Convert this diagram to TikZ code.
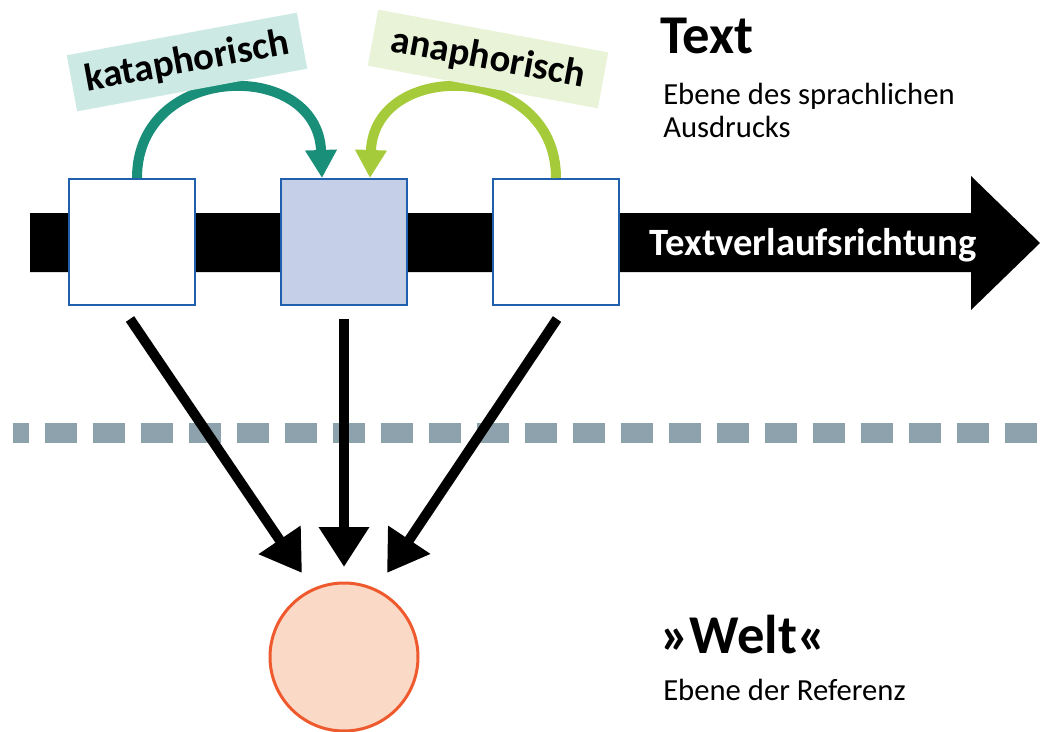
\documentclass[tikz,border=0pt]{standalone}
\usepackage{fontspec}
\setmainfont{Carlito}
\usetikzlibrary{arrows.meta,calc}
\definecolor{boxblue}{HTML}{1F5FAD}
\definecolor{midfill}{HTML}{C5D0E8}
\definecolor{tealA}{HTML}{198F79}
\definecolor{tealL}{HTML}{CCE9E3}
\definecolor{greenA}{HTML}{A6CB3A}
\definecolor{greenL}{HTML}{E9F3D7}
\definecolor{circS}{HTML}{EE5A2E}
\definecolor{circF}{HTML}{FADAC6}
\definecolor{dashc}{HTML}{8DA2AC}
\begin{document}
\begin{tikzpicture}[x=0.75pt,y=-0.75pt,
  wordbox/.style={draw=boxblue, line width=1.5pt, minimum width=94.5pt, minimum height=94.5pt, inner sep=0pt, fill=white},
  curvearrow/.style={line width=7.5pt, -{Triangle[width=22.5pt,length=21pt]}},
  downarrow/.style={line width=7.5pt, -{Triangle[width=36pt,length=30pt]}},
  tag/.style={minimum width=175.5pt, minimum height=42.75pt, inner sep=0pt, font=\fontsize{29}{32}\selectfont\bfseries},
  head/.style={anchor=base west, inner sep=0pt, font=\fontsize{41}{46}\selectfont\bfseries},
  sub/.style={anchor=base west, inner sep=0pt, font=\fontsize{23}{26}\selectfont}]
\useasboundingbox (0,0) rectangle (1051,732);
% timeline arrow
\fill[black] (30,213) -- (971,213) -- (971,176) -- (1040,243) -- (971,310) -- (971,272) -- (30,272) -- cycle;
\node[anchor=base, inner sep=0pt, text=white, font=\fontsize{29}{32}\selectfont\bfseries] (tv) at (813,255) {Textverlaufsrichtung};
% boxes
\node[wordbox] (b1) at (132,242) {};
\node[wordbox, fill=midfill] (b2) at (344,242) {};
\node[wordbox] (b3) at (556,242) {};
% curved arrows
\draw[curvearrow, tealA] (b1.north -| 137,0) .. controls (137,62) and (318,58) .. (322,178);
\draw[curvearrow, greenA] (b3.north -| 556,0) .. controls (556,62) and (374,58) .. (370,178);
% labels
\node[tag, fill=tealL, rotate=10.5] (k) at (187,62) {kataphorisch};
\node[tag, fill=greenL, rotate=-10.5] (a) at (488,59) {anaphorisch};
% dashed separator
\coordinate (d0) at (13,433);
\coordinate (d1) at (1051,433);
\draw[dashc, line width=15pt, dash pattern=on 24pt off 12pt, dash phase=12pt] (d0) -- (d1);
% world
\node[circle, draw=circS, fill=circF, line width=2.25pt, minimum size=111pt, inner sep=0pt] (w) at (344,657) {};
\coordinate (t1) at (302,573);
\coordinate (t2) at (344,567);
\coordinate (t3) at (387,573);
\draw[downarrow] ($(b1.south)+(-2,13)$) -- (t1);
\draw[downarrow] ($(b2.south)+(0,13)$) -- (t2);
\draw[downarrow] ($(b3.south)+(1,13)$) -- (t3);
% side texts
\node[head] (tx) at (660,53) {Text};
\node[sub] (tx1) at (663,104) {Ebene des sprachlichen};
\node[sub] (tx2) at (663,137) {Ausdrucks};
\node[head] (we) at (660,653) {»Welt«};
\node[sub] (we1) at (663,700) {Ebene der Referenz};
\end{tikzpicture}
\end{document}
